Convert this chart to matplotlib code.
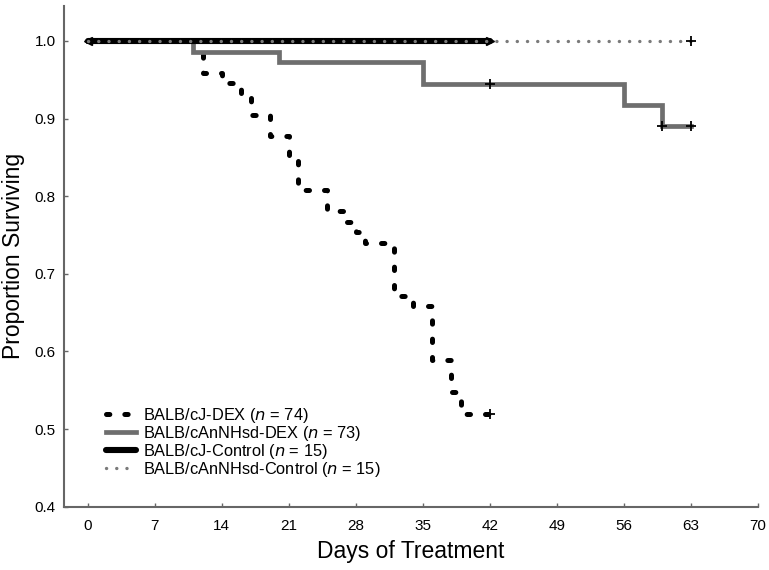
import matplotlib
matplotlib.use("Agg")
import matplotlib.pyplot as plt

plt.rcParams['font.family'] = ['Liberation Sans', 'DejaVu Sans']
plt.rcParams['lines.scale_dashes'] = False

# Kaplan-Meier steps
cj_dex_days = [0, 12, 14, 16, 17, 19, 21, 22, 25, 27, 28, 29, 32, 34, 36, 38, 39, 42]
cj_dex_surv = [1.0, 0.959, 0.946, 0.932, 0.904, 0.878, 0.851, 0.808, 0.781, 0.767,
               0.754, 0.740, 0.671, 0.658, 0.589, 0.548, 0.520, 0.520]
cj_dex_cens_days = [42]
cj_dex_cens_surv = [0.520]

an_dex_days = [0, 11, 20, 35, 56, 60, 63]
an_dex_surv = [1.0, 0.986, 0.973, 0.945, 0.918, 0.891, 0.891]
an_dex_cens_days = [42, 60, 63]
an_dex_cens_surv = [0.945, 0.891, 0.891]

cj_ctrl_days = [0, 42]
cj_ctrl_surv = [1.0, 1.0]
an_ctrl_days = [0, 63]
an_ctrl_surv = [1.0, 1.0]
an_ctrl_cens_days = [63]
an_ctrl_cens_surv = [1.0]

labels = ["BALB/cJ-DEX ($\\it{n}$ = 74)", "BALB/cAnNHsd-DEX ($\\it{n}$ = 73)",
          "BALB/cJ-Control ($\\it{n}$ = 15)", "BALB/cAnNHsd-Control ($\\it{n}$ = 15)"]

xticks = [0, 7, 14, 21, 28, 35, 42, 49, 56, 63, 70]
yticks = [0.4, 0.5, 0.6, 0.7, 0.8, 0.9, 1.0]

fig = plt.figure(figsize=(7.69, 5.70), dpi=100)
ax = fig.add_axes([0.0832, 0.111, 0.902, 0.8785])

l1, = ax.step(cj_dex_days, cj_dex_surv, where='post', color='black', lw=3.6,
              dashes=(2.4, 10.8), dash_capstyle='round', label=labels[0])
l2, = ax.step(an_dex_days, an_dex_surv, where='post', color='#6e6e6e', lw=3.4,
              solid_joinstyle='miter', label=labels[1])
l3, = ax.plot(cj_ctrl_days, cj_ctrl_surv, color='black', lw=4.4,
              solid_capstyle='round', label=labels[2])
ax.plot(cj_ctrl_days[:1], cj_ctrl_surv[:1], marker='<', color='black', ms=6, ls='none')
ax.plot(cj_ctrl_days[-1:], cj_ctrl_surv[-1:], marker='>', color='black', ms=6, ls='none')
l4, = ax.plot(an_ctrl_days, an_ctrl_surv, color='#7a7a7a', lw=2.4,
              dashes=(0.1, 7.25), dash_capstyle='round', label=labels[3])

for d, s in [(cj_dex_cens_days, cj_dex_cens_surv), (an_dex_cens_days, an_dex_cens_surv),
             (an_ctrl_cens_days, an_ctrl_cens_surv)]:
    ax.plot(d, s, ls='none', marker='+', color='black', ms=7, mew=1.3)

ax.set_xlim(-2.5, 70)
ax.set_ylim(0.4, 1.045)
ax.set_xticks(xticks)
ax.set_yticks(yticks)
ax.set_yticklabels([f"{v:.1f}" for v in yticks])
for side in ['top', 'right']:
    ax.spines[side].set_visible(False)
for side in ['left', 'bottom']:
    ax.spines[side].set_color('#666666')
    ax.spines[side].set_linewidth(1.5)
ax.tick_params(direction='in', length=3, width=1, color='#666666', labelsize=11)
ax.tick_params(axis='x', pad=9)
ax.tick_params(axis='y', pad=6)

ax.set_xlabel("Days of Treatment", fontsize=16.5, labelpad=5)
ax.set_ylabel("Proportion Surviving", fontsize=16.5, labelpad=7)

ax.legend(handles=[l1, l2, l3, l4], loc='lower left', bbox_to_anchor=(0.049, 0.04),
          frameon=False, fontsize=11.8, handlelength=1.85, handletextpad=0.4,
          labelspacing=-0.07, borderpad=0)

fig.savefig("out.png", dpi=100)
